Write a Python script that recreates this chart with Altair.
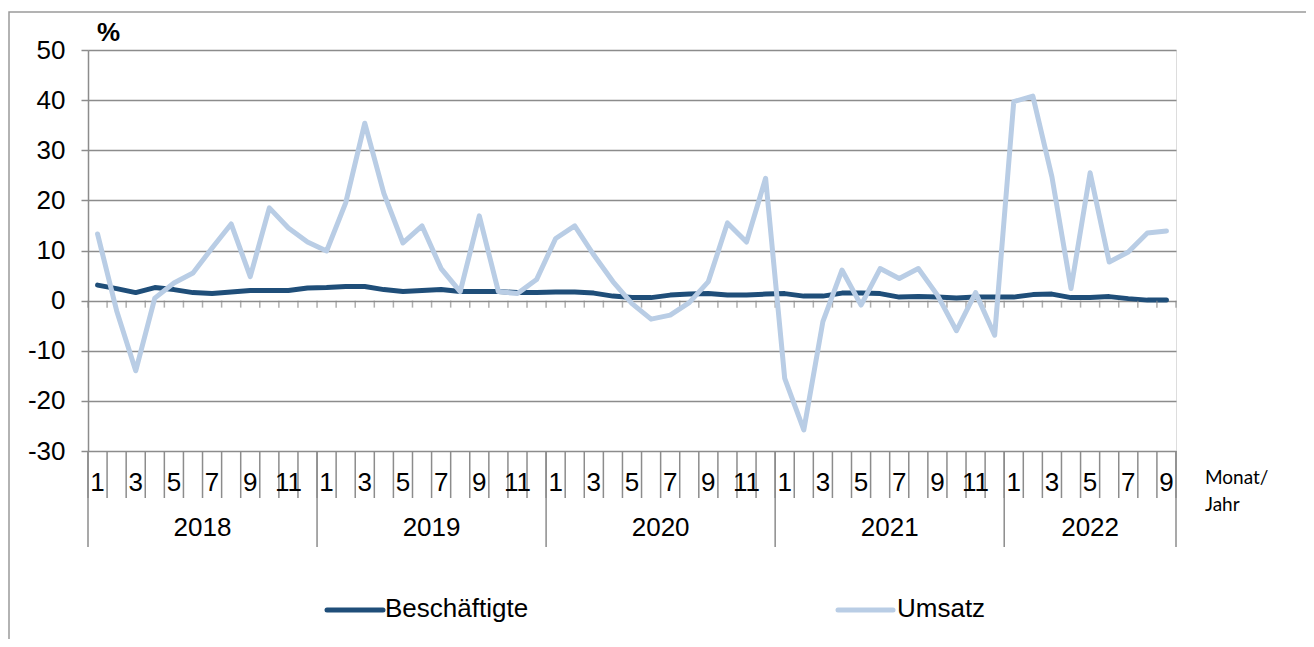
import altair as alt
import pandas as pd

# ---- data ----
years = [2018, 2019, 2020, 2021, 2022]
n_months = 57  # Jan 2018 .. Sep 2022

beschaeftigte = [
    3.1, 2.4, 1.6, 2.6, 2.2, 1.6, 1.4, 1.7, 2.0, 2.0, 2.0, 2.5,
    2.6, 2.8, 2.8, 2.2, 1.8, 2.0, 2.2, 1.8, 1.8, 1.8, 1.6, 1.6,
    1.7, 1.7, 1.5, 0.9, 0.6, 0.6, 1.1, 1.3, 1.4, 1.1, 1.1, 1.3,
    1.4, 0.9, 0.9, 1.5, 1.5, 1.4, 0.7, 0.8, 0.7, 0.5, 0.7, 0.7,
    0.7, 1.2, 1.3, 0.6, 0.6, 0.8, 0.4, 0.1, 0.1,
]
umsatz = [
    13.3, -2.0, -14.0, 0.5, 3.5, 5.5, 10.5, 15.3, 4.8, 18.5, 14.5, 11.7,
    9.9, 19.5, 35.4, 21.4, 11.5, 14.9, 6.4, 1.8, 16.9, 1.8, 1.4, 4.2,
    12.4, 14.9, 9.1, 3.8, -0.6, -3.7, -2.9, -0.4, 3.8, 15.5, 11.7, 24.4,
    -15.5, -25.8, -4.2, 6.1, -0.9, 6.4, 4.4, 6.4, 1.1, -6.0, 1.6, -6.9,
    39.7, 40.8, 24.7, 2.4, 25.5, 7.7, 9.7, 13.5, 13.9,
]
series_names = ["Beschäftigte", "Umsatz"]
series_colors = ["#1F4E79", "#B9CDE5"]
y_ticks = [-30, -20, -10, 0, 10, 20, 30, 40, 50]

# ---- tables built from the arrays ----
idx = list(range(n_months))
month_no = [i % 12 + 1 for i in idx]
year_of = [years[i // 12] for i in idx]

df_b = pd.DataFrame({"x": idx, "v": beschaeftigte, "s": series_names[0]})
df_u = pd.DataFrame({"x": idx, "v": umsatz, "s": series_names[1]})

df_month_lab = pd.DataFrame({"x": idx, "m": [str(m) for m in month_no]})
df_month_lab = df_month_lab[[m % 2 == 1 for m in month_no]]

df_bounds = pd.DataFrame({"x": [i - 0.5 for i in range(n_months + 1)], "z": 0})
year_first = [year_of.index(y) for y in years]
year_last = [len(year_of) - 1 - year_of[::-1].index(y) for y in years]
df_year_bounds = pd.DataFrame({"x": [f - 0.5 for f in year_first] + [year_last[-1] + 0.5]})
df_year_lab = pd.DataFrame({"x": [(f + l) / 2 for f, l in zip(year_first, year_last)],
                            "y": [str(y) for y in years]})

FONT = "Liberation Sans"
GRID = "#8c8c8c"

xs = alt.Scale(domain=[-0.5, n_months - 0.5], nice=False, zero=False)
ys = alt.Scale(domain=[-30, 50], nice=False, zero=False)
X = lambda: alt.X("x:Q", scale=xs, axis=None)

frame = alt.Chart(pd.DataFrame({"a": [0]})).mark_rect(
    fill=None, stroke="#9a9a9a", strokeWidth=1.5
).encode(x=alt.value(-79), x2=alt.value(1400), y=alt.value(-38), y2=alt.value(900))

line_b = alt.Chart(df_b).mark_line(
    color=series_colors[0], strokeWidth=5, strokeJoin="round", strokeCap="round"
).encode(
    x=X(),
    y=alt.Y("v:Q", scale=ys, title=None,
            axis=alt.Axis(values=y_ticks, labelFont=FONT, labelFontSize=26,
                          labelColor="black", labelPadding=16, tickSize=7,
                          tickColor=GRID, tickWidth=1.5, domainColor=GRID,
                          domainWidth=1.5, grid=True, gridColor=GRID,
                          gridWidth=1.5, labelExpr="'' + datum.value")),
)
line_u = alt.Chart(df_u).mark_line(
    color=series_colors[1], strokeWidth=5, strokeJoin="round", strokeCap="round"
).encode(x=X(), y=alt.Y("v:Q", scale=ys))

zero_ticks = alt.Chart(df_bounds).mark_tick(
    orient="vertical", size=7, thickness=1.5, color=GRID, yOffset=3.5
).encode(x=X(), y=alt.Y("z:Q", scale=ys))

month_seps = alt.Chart(df_bounds).mark_rule(color=GRID, strokeWidth=1.5).encode(
    x=X(), y=alt.value(401), y2=alt.value(448))
year_seps = alt.Chart(df_year_bounds).mark_rule(color=GRID, strokeWidth=1.5).encode(
    x=X(), y=alt.value(401), y2=alt.value(497))

month_text = alt.Chart(df_month_lab).mark_text(
    font=FONT, fontSize=26, color="black", baseline="middle", align="center"
).encode(x=X(), y=alt.value(433), text="m:N")
year_text = alt.Chart(df_year_lab).mark_text(
    font=FONT, fontSize=26, color="black", baseline="middle", align="center"
).encode(x=X(), y=alt.value(478), text="y:N")

unit_text = alt.Chart(pd.DataFrame({"t": ["%"]})).mark_text(
    font=FONT, fontSize=26, fontWeight="bold", color="black", align="left", baseline="middle"
).encode(x=alt.value(9), y=alt.value(-17), text="t:N")

axis_title = alt.Chart(pd.DataFrame({"t": ["Monat/", "Jahr"], "yy": [428, 455]})).mark_text(
    font="Lato", fontSize=19, color="black", align="left", baseline="middle"
).encode(x=alt.value(1117), y=alt.Y("yy:Q", scale=None), text="t:N")

leg_df = pd.DataFrame({"s": series_names, "c": series_colors,
                       "x0": [239, 750], "x1": [295, 805], "tx": [297, 809]})
leg_lines = alt.Chart(leg_df).mark_rule(strokeWidth=5, strokeCap="round").encode(
    x=alt.X("x0:Q", scale=None), x2="x1:Q", y=alt.value(560),
    color=alt.Color("c:N", scale=None))
leg_text = alt.Chart(leg_df).mark_text(
    font=FONT, fontSize=26, color="black", align="left", baseline="middle"
).encode(x=alt.X("tx:Q", scale=None), y=alt.value(559), text="s:N")

chart = alt.layer(
    frame, line_b, zero_ticks, month_seps, year_seps, month_text, year_text,
    unit_text, axis_title, line_u, leg_lines, leg_text
).properties(
    width=1088, height=401,
    autosize=alt.AutoSizeParams(type="none"),
    padding={"left": 80, "top": 42, "right": 130, "bottom": 188},
).configure_view(stroke=None).configure(background="white")

chart.save("out.html", embed_options={"renderer": "svg", "actions": False})
